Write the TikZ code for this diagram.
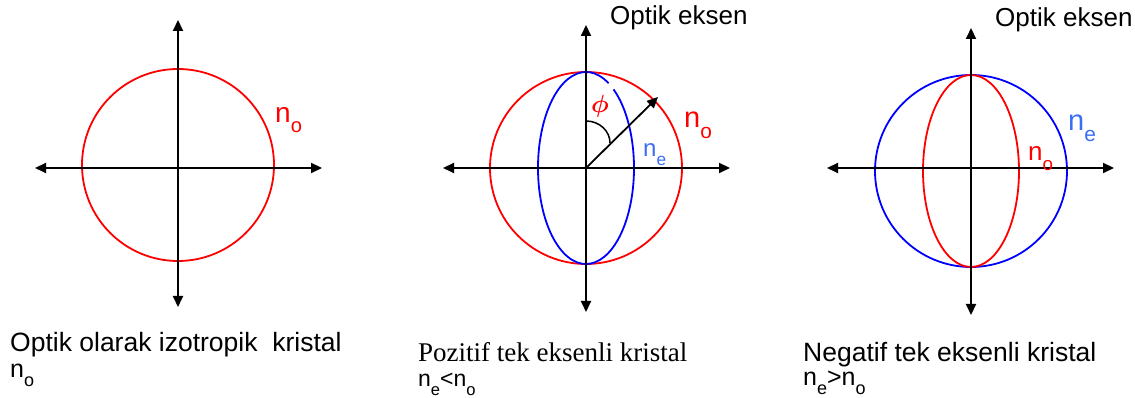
\documentclass[tikz,border=0pt]{standalone}
\usepackage{bm}
\usepackage{fontspec}
\setmainfont{Liberation Sans}
\newfontfamily\serifcap{Liberation Serif}
\usetikzlibrary{arrows.meta}
\definecolor{nred}{RGB}{255,0,0}
\definecolor{nblue}{RGB}{0,0,255}
\definecolor{lblue}{RGB}{60,110,245}
\newcommand{\nsub}[1]{n\raisebox{-0.35em}{\scalebox{0.72}{#1}}}
\newcommand{\fsz}[1]{\fontsize{#1}{#1}\selectfont}

\begin{document}
\begin{tikzpicture}[x=1pt,y=1pt,
    axis/.style={line width=2pt,{Triangle[length=11pt,width=10pt]}-{Triangle[length=11pt,width=10pt]}},
    curve/.style={line width=1.8pt},
    lbl/.style={inner sep=0pt,anchor=base west}
  ]
  \useasboundingbox (0,0) rectangle (1135,398);
  % izotropik kristal
  \begin{scope}[shift={(178,230)}]
    \coordinate (o1) at (0,0);
    \coordinate (l1) at (-143,0); \coordinate (r1) at (144,0);
    \coordinate (t1) at (0,148); \coordinate (b1) at (0,-139);
    \draw[curve,nred] (0,3) circle (96);
    \draw[axis] (l1) -- (r1);
    \draw[axis] (b1) -- (t1);
    \node[lbl,nred,font={\fsz{28}}] (no1) at (97,45) {\nsub{o}};
  \end{scope}
  % pozitif
  \begin{scope}[shift={(586,230)}]
    \coordinate (o2) at (0,0);
    \coordinate (l2) at (-143,0); \coordinate (r2) at (144,0);
    \coordinate (t2) at (0,143); \coordinate (b2) at (0,-144);
    \coordinate (tip2) at (72,71);
    \draw[curve,nred] (o2) circle (96);
    \draw[curve,nblue] (62:48 and 96) arc[start angle=62,end angle=415,x radius=48,y radius=96];
    \draw[axis] (l2) -- (r2);
    \draw[axis] (b2) -- (t2);
    \draw[line width=1.8pt,-{Triangle[length=11pt,width=10pt]}] (o2) -- (tip2);
    \draw[line width=1.5pt] (0,47) arc[start angle=90,end angle=0,x radius=24,y radius=22];
    \node[lbl,nred,font={\fsz{26}}] (phi) at (5,55) {$\bm{\phi}$};
    \node[lbl,nred,font={\fsz{29}}] (no2) at (98,40) {\nsub{o}};
    \node[lbl,lblue,font={\fsz{24}}] (ne2) at (57,11) {\nsub{e}};
    \node[lbl,font={\fsz{26}}] (ax2) at (24,143) {Optik eksen};
  \end{scope}
  % negatif
  \begin{scope}[shift={(971,230)}]
    \coordinate (o3) at (0,0);
    \coordinate (l3) at (-144,0); \coordinate (r3) at (143,0);
    \coordinate (t3) at (0,140); \coordinate (b3) at (0,-147);
    \draw[curve,nblue] (0,-3) circle (96);
    \draw[curve,nred] (0,-3) ellipse [x radius=48,y radius=96];
    \draw[axis] (l3) -- (r3);
    \draw[axis] (b3) -- (t3);
    \node[lbl,font={\fsz{26}}] (ax3) at (24,141) {Optik eksen};
    \node[lbl,lblue,font={\fsz{29}}] (ne3) at (97,37) {\nsub{e}};
    \node[lbl,nred,font={\fsz{26}}] (no3) at (57,7) {\nsub{o}};
  \end{scope}
  % alt yazilar
  \node[lbl,font={\fsz{26.5}}] (cap1) at (10,46) {Optik olarak izotropik\ \ kristal};
  \node[lbl,font={\fsz{25}}] (sub1) at (10,20) {\nsub{o}};
  \node[lbl,font={\serifcap\fsz{27}}] (cap2) at (418,36) {Pozitif tek eksenli kristal};
  \node[lbl,font={\fsz{23}}] (sub2) at (418,11) {\nsub{e}<\nsub{o}};
  \node[lbl,font={\fsz{26.5}}] (cap3) at (803,36) {Negatif tek eksenli kristal};
  \node[lbl,font={\fsz{25}}] (sub3) at (803,12) {\nsub{e}>\nsub{o}};
\end{tikzpicture}
\end{document}
